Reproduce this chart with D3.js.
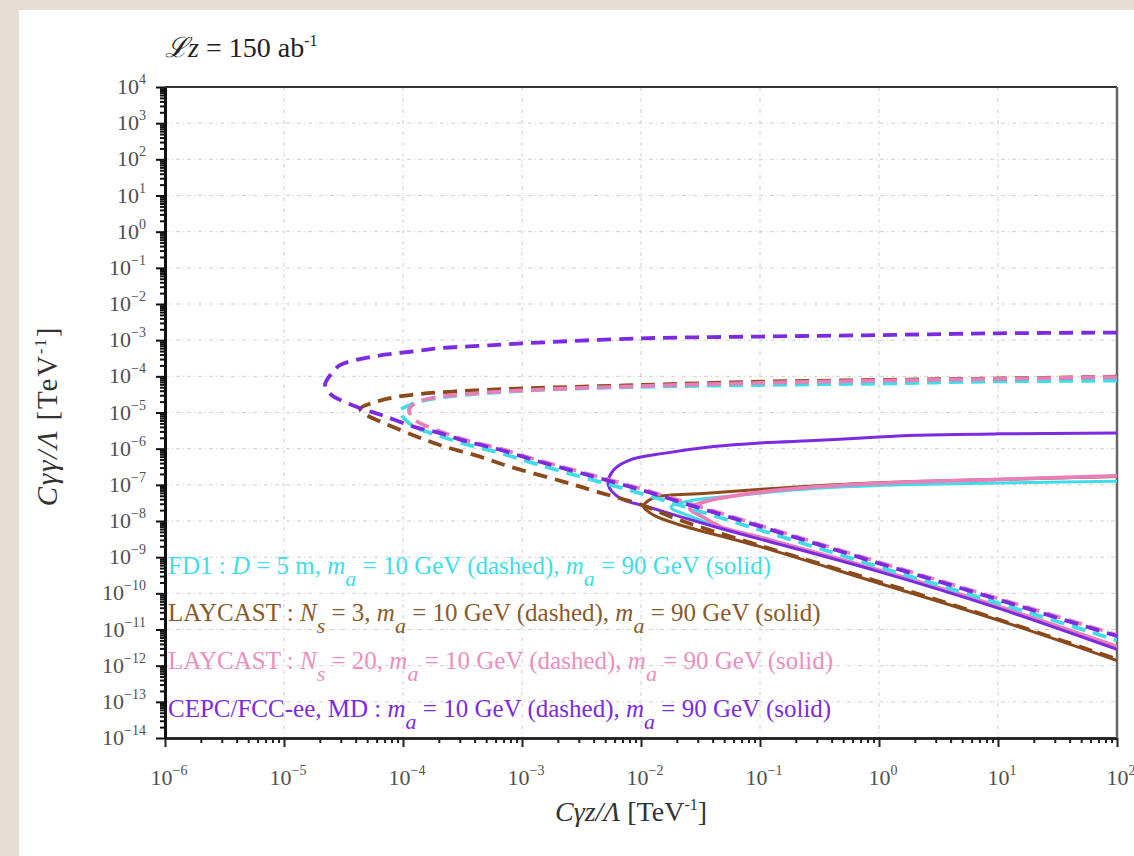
<!DOCTYPE html>
<html>
<head>
<meta charset="utf-8">
<script src="https://cdn.jsdelivr.net/npm/d3@7"></script>
<style>
  html, body { margin: 0; padding: 0; background: #e4ded4; }
  svg { display: block; }
</style>
</head>
<body>
<div id="chart"></div>
<script>
// Axis ticks (decade exponents)
const xDecades = [-6, -5, -4, -3, -2, -1, 0, 1, 2];
const yDecades = [4, 3, 2, 1, 0, -1, -2, -3, -4, -5, -6, -7, -8, -9, -10, -11, -12, -13, -14];

// Curves: [log10(Cγz/Λ), log10(Cγγ/Λ)]
const fd1Dashed = [
  [2, -4.12], [1, -4.14], [0, -4.20], [-1, -4.24], [-2, -4.29], [-2.94, -4.39], [-3.5, -4.52],
  [-3.80, -4.65], [-3.94, -4.79], [-4.03, -4.97], [-3.99, -5.16], [-3.91, -5.39], [-3.69, -5.65],
  [-3.465, -5.88], [-3.185, -6.12], [-2.907, -6.40], [-2.5, -6.78], [-2, -7.24], [-1, -8.25],
  [0, -9.27], [1, -10.27], [2, -11.3]
];
const fd1Solid = [
  [2, -6.90], [1, -6.95], [0, -7.02], [-0.66, -7.13], [-1.2, -7.30], [-1.6, -7.45], [-1.75, -7.62],
  [-1.6, -7.85], [-1.336, -8.17], [-1, -8.47], [0, -9.38], [1, -10.38], [2, -11.49]
];
const lay3Dashed = [
  [2, -4.01], [1, -4.06], [0, -4.10], [-1, -4.15], [-2, -4.24], [-2.94, -4.33], [-3.58, -4.42],
  [-4.0, -4.54], [-4.22, -4.70], [-4.36, -4.90], [-4.30, -5.08], [-4.19, -5.25], [-3.92, -5.62],
  [-3.664, -5.93], [-3.353, -6.22], [-3.10, -6.50], [-2.655, -6.91], [-2.36, -7.2], [-2.0, -7.55],
  [-1.67, -7.98], [-1, -8.68], [0, -9.68], [1, -10.72], [2, -11.82]
];
const lay3Solid = [
  [2, -6.77], [1, -6.85], [0, -6.94], [-0.664, -7.05], [-1.448, -7.23], [-1.868, -7.33],
  [-1.94, -7.44], [-1.98, -7.60], [-1.93, -7.76], [-1.868, -7.88], [-1.672, -8.11], [-1, -8.71],
  [0, -9.72], [1, -10.74], [2, -11.86]
];
const lay20Dashed = [
  [2, -4.02], [1, -4.07], [0, -4.12], [-1, -4.18], [-2, -4.27], [-2.94, -4.38], [-3.5, -4.50],
  [-3.79, -4.62], [-3.90, -4.75], [-3.95, -4.93], [-3.90, -5.20], [-3.69, -5.52], [-3.465, -5.77],
  [-3.185, -6.00], [-2.907, -6.28], [-2.5, -6.65], [-2, -7.11], [-1, -8.12], [0, -9.14],
  [1, -10.14], [2, -11.15]
];
const lay20Solid = [
  [2, -6.75], [1, -6.85], [0, -6.96], [-0.664, -7.09], [-1.168, -7.28], [-1.45, -7.45],
  [-1.59, -7.66], [-1.5, -7.85], [-1.336, -8.15], [-1, -8.45], [0, -9.36], [1, -10.36], [2, -11.47]
];
const mdDashed = [
  [2, -2.79], [1, -2.81], [0, -2.86], [-1, -2.90], [-2, -2.95], [-3.0, -3.09], [-3.37, -3.16],
  [-3.69, -3.22], [-3.94, -3.32], [-4.17, -3.41], [-4.40, -3.55], [-4.53, -3.69], [-4.60, -3.92],
  [-4.655, -4.24], [-4.60, -4.52], [-4.53, -4.65], [-4.36, -4.88], [-4.18, -5.07], [-3.913, -5.39],
  [-3.69, -5.57], [-3.465, -5.80], [-3.185, -6.03], [-2.907, -6.31], [-2.5, -6.68], [-2, -7.14],
  [-1.5, -7.65], [-1, -8.15], [-0.5, -8.66], [0, -9.17], [0.5, -9.67], [1, -10.17], [1.5, -10.68],
  [2, -11.18]
];
const mdSolid = [
  [2, -5.57], [1, -5.59], [0.3, -5.63], [0, -5.68], [-0.5, -5.77], [-1, -5.84], [-1.39, -5.94],
  [-1.81, -6.13], [-2.09, -6.31], [-2.23, -6.59], [-2.275, -7.0], [-2.176, -7.37], [-1.952, -7.60],
  [-1.672, -7.88], [-1.336, -8.20], [-1, -8.50], [0, -9.40], [1, -10.41], [2, -11.55]
];

const series = [
  { name: "FD1", color: "#3fdde8", dashed: fd1Dashed, solid: fd1Solid },
  { name: "LAYCAST3", color: "#8b4a1c", dashed: lay3Dashed, solid: lay3Solid },
  { name: "LAYCAST20", color: "#e87fb8", dashed: lay20Dashed, solid: lay20Solid },
  { name: "MD", color: "#7b2be0", dashed: mdDashed, solid: mdSolid }
];

// Legend lines: [text, style]
const legendLines = [
  { color: "#3fdde8", parts: [["FD1 : ", "n"], ["D", "i"], [" = 5 m, ", "n"], ["m", "i"], ["a", "sub"],
    [" = 10 GeV (dashed), ", "n"], ["m", "i"], ["a", "sub"], [" = 90 GeV (solid)", "n"]] },
  { color: "#8b5a2b", parts: [["LAYCAST : ", "n"], ["N", "i"], ["s", "sub"], [" = 3, ", "n"], ["m", "i"], ["a", "sub"],
    [" = 10 GeV (dashed), ", "n"], ["m", "i"], ["a", "sub"], [" = 90 GeV (solid)", "n"]] },
  { color: "#ea8fc0", parts: [["LAYCAST : ", "n"], ["N", "i"], ["s", "sub"], [" = 20, ", "n"], ["m", "i"], ["a", "sub"],
    [" = 10 GeV (dashed), ", "n"], ["m", "i"], ["a", "sub"], [" = 90 GeV (solid)", "n"]] },
  { color: "#7b2be0", parts: [["CEPC/FCC-ee, MD : ", "n"], ["m", "i"], ["a", "sub"],
    [" = 10 GeV (dashed),  ", "n"], ["m", "i"], ["a", "sub"], [" = 90 GeV (solid)", "n"]] }
];

const WIDTH = 1134;
const HEIGHT = 856;
const FONT = "'Liberation Serif', 'Times New Roman', serif";
const plot = { left: 165, right: 1117, top: 87, bottom: 738 };

const svg = d3.select("#chart").append("svg")
  .attr("width", WIDTH)
  .attr("height", HEIGHT)
  .style("font-family", FONT);

svg.append("rect").attr("x", 0).attr("y", 0).attr("width", WIDTH).attr("height", HEIGHT).attr("fill", "#e4ded4");
svg.append("rect").attr("x", 19).attr("y", 10).attr("width", WIDTH - 19).attr("height", HEIGHT - 10).attr("fill", "#ffffff");

const x = d3.scaleLog().domain([1e-6, 1e2]).range([plot.left, plot.right]);
const y = d3.scaleLog().domain([1e-14, 1e4]).range([plot.bottom, plot.top]);

// Grid
const grid = svg.append("g").attr("stroke", "#cfcfcf").attr("stroke-width", 1).attr("stroke-dasharray", "4,3,1,3");
grid.selectAll("line.gx").data(xDecades.slice(1, -1)).enter().append("line")
  .attr("x1", (d) => x(10 ** d)).attr("x2", (d) => x(10 ** d))
  .attr("y1", plot.top).attr("y2", plot.bottom);
grid.selectAll("line.gy").data(yDecades.slice(1, -1)).enter().append("line")
  .attr("x1", plot.left).attr("x2", plot.right)
  .attr("y1", (d) => y(10 ** d)).attr("y2", (d) => y(10 ** d));

// Minor tick values
const minorTicks = (decades) => {
  const out = [];
  decades.forEach((e) => {
    for (let k = 2; k <= 9; k++) out.push(k * 10 ** e);
  });
  return out;
};
const xMinor = minorTicks(d3.range(-6, 2));
const yMinor = minorTicks(d3.range(-14, 4));

// Axes
const xAxisG = svg.append("g").attr("transform", `translate(0,${plot.bottom})`);
xAxisG.call(d3.axisBottom(x).tickValues(xDecades.map((d) => 10 ** d)).tickFormat("").tickSize(9).tickSizeOuter(0));
xAxisG.append("g").call(d3.axisBottom(x).tickValues(xMinor).tickFormat("").tickSize(5).tickSizeOuter(0));
xAxisG.selectAll("path.domain").attr("stroke", "#222").attr("stroke-width", 2.5);
xAxisG.selectAll(".tick line").attr("stroke", "#222").attr("stroke-width", 2);

const yAxisG = svg.append("g").attr("transform", `translate(${plot.left},0)`);
yAxisG.call(d3.axisLeft(y).tickValues(yDecades.map((d) => 10 ** d)).tickFormat("").tickSize(9).tickSizeOuter(0));
yAxisG.append("g").call(d3.axisLeft(y).tickValues(yMinor).tickFormat("").tickSize(5).tickSizeOuter(0));
yAxisG.selectAll("path.domain").attr("stroke", "#111").attr("stroke-width", 3);
yAxisG.selectAll(".tick line").attr("stroke", "#111").attr("stroke-width", 2);

// Frame top / right
svg.append("line").attr("x1", plot.left).attr("x2", plot.right).attr("y1", plot.top).attr("y2", plot.top)
  .attr("stroke", "#333").attr("stroke-width", 2);
svg.append("line").attr("x1", plot.right).attr("x2", plot.right).attr("y1", plot.top).attr("y2", plot.bottom)
  .attr("stroke", "#666").attr("stroke-width", 2.5);

// Tick labels
const powerLabel = (g, e, anchor) => {
  const t = g.append("text").attr("text-anchor", anchor).attr("fill", "#505050");
  t.append("tspan").attr("font-size", 22).text("10");
  t.append("tspan").attr("font-size", 14).attr("dy", -10).text(e < 0 ? "\u2212" + Math.abs(e) : String(e));
  return t;
};
xDecades.forEach((e) => {
  const g = svg.append("g").attr("transform", `translate(${x(10 ** e) + 4},785)`);
  powerLabel(g, e, "middle");
});
yDecades.forEach((e) => {
  const g = svg.append("g").attr("transform", `translate(146,${y(10 ** e) + 7})`);
  powerLabel(g, e, "end");
});

// Axis titles
const axisTitle = (t, main) => {
  t.append("tspan").attr("font-style", "italic").text(main);
  t.append("tspan").text(" [TeV");
  t.append("tspan").attr("font-size", 16).attr("dy", -11).text("-1");
  t.append("tspan").attr("dy", 11).text("]");
};
axisTitle(
  svg.append("text").attr("x", 631).attr("y", 821).attr("text-anchor", "middle")
    .attr("font-size", 28).attr("fill", "#333"),
  "C\u03b3z/\u039b"
);
axisTitle(
  svg.append("text").attr("transform", "translate(57,416) rotate(-90)").attr("text-anchor", "middle")
    .attr("font-size", 29).attr("letter-spacing", 1.8).attr("fill", "#333"),
  "C\u03b3\u03b3/\u039b"
);

const title = svg.append("text").attr("x", 165).attr("y", 57).attr("font-size", 28).attr("fill", "#222");
title.append("tspan").attr("font-style", "italic").text("\u2112");
title.append("tspan").attr("font-style", "italic").text("z");
title.append("tspan").text(" = 150 ab");
title.append("tspan").attr("font-size", 16).attr("dy", -11).text("-1");

// Curves
svg.append("clipPath").attr("id", "clip").append("rect")
  .attr("x", plot.left).attr("y", plot.top)
  .attr("width", plot.right - plot.left).attr("height", plot.bottom - plot.top);

const line = d3.line()
  .x((d) => x(10 ** d[0]))
  .y((d) => y(10 ** d[1]))
  .curve(d3.curveCatmullRom.alpha(0.5));

const curves = svg.append("g").attr("clip-path", "url(#clip)").attr("fill", "none");
series.forEach((s) => {
  curves.append("path").attr("d", line(s.solid))
    .attr("stroke", s.color).attr("stroke-width", s.name === "LAYCAST20" ? 3.8 : 3);
});
series.forEach((s) => {
  curves.append("path").attr("d", line(s.dashed))
    .attr("stroke", s.color).attr("stroke-width", 3.8)
    .attr("stroke-dasharray", "14,8");
});

// Legend text
const legendY = [574, 621, 669, 717];
legendLines.forEach((l, i) => {
  const t = svg.append("text").attr("x", 168).attr("y", legendY[i]).attr("font-size", 25).attr("fill", l.color);
  let shift = 0;
  l.parts.forEach(([txt, style]) => {
    const sp = t.append("tspan").text(txt);
    if (style === "i") sp.attr("font-style", "italic");
    if (style === "sub") {
      sp.attr("font-style", "italic").attr("font-size", 22).attr("dy", 12 - shift);
      shift = 12;
    } else if (shift !== 0) {
      sp.attr("dy", -shift);
      shift = 0;
    }
  });
});
</script>
</body>
</html>
